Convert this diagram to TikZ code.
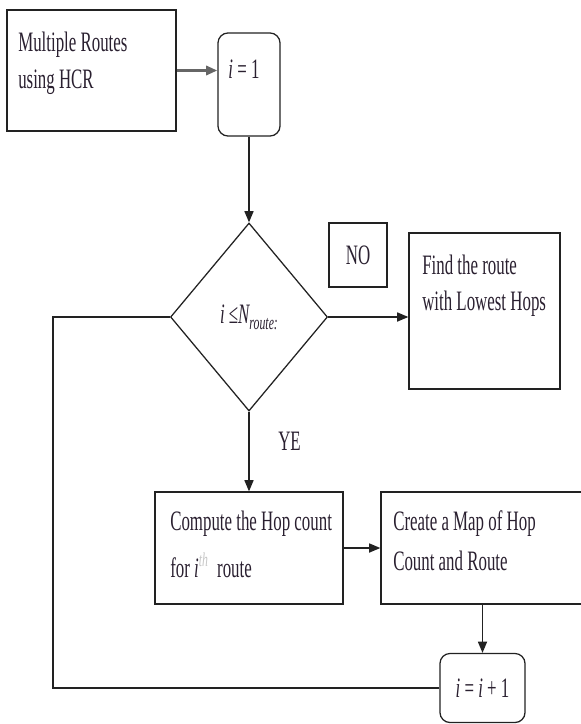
\documentclass[tikz,border=0pt]{standalone}
\usepackage{fontspec}
\setmainfont[FakeStretch=0.6]{Liberation Serif}
\usetikzlibrary{arrows.meta, shapes.geometric}

\definecolor{inkline}{HTML}{222222}
\definecolor{inktext}{HTML}{2A2030}

\tikzset{
  procbox/.style={draw=inkline, line width=0.9pt, inner sep=0pt},
  roundbox/.style={procbox, rounded corners=0.25cm},
  decision/.style={draw=inkline, line width=0.9pt, diamond, inner sep=0pt},
  boxtext/.style={text=inktext, font=\fontsize{20}{25}\selectfont, align=left, inner sep=0pt},
  arr/.style={draw=inkline, line width=0.9pt, -{Triangle[length=8pt,width=6.5pt]}},
  loopline/.style={draw=inkline, line width=0.9pt}
}

\begin{document}
\begin{tikzpicture}[x=0.025cm, y=-0.025cm]
\useasboundingbox (0,0) rectangle (580,724);
\node[procbox, minimum width=4.225cm, minimum height=3.025cm] (routes) at (91.5,70.5) {};
\node[boxtext, anchor=base west] (routestxt) at (18,88) {Multiple Routes\\[1.3pt]using HCR};
\node[roundbox, minimum width=1.55cm, minimum height=2.575cm] (init) at (249,84.5) {};
\node[boxtext, anchor=base] (inittxt) at (244,78) {\itshape i\upshape\ = 1};
\node[decision, boxtext, minimum width=3.925cm, minimum height=4.7cm] (check) at (249,317)
  {\itshape i\upshape\ ≤\itshape N\raisebox{-0.45ex}{\fontsize{14}{14}\selectfont route:}};
\node[procbox, boxtext, minimum width=1.45cm, minimum height=1.6cm] (nobox) at (358,255) {NO};
\node[procbox, minimum width=3.775cm, minimum height=3.9cm] (find) at (484.5,311) {};
\node[boxtext, anchor=base west] (findtxt) at (422,310) {Find the route\\with Lowest Hops};
\node[boxtext, anchor=base west] (yes) at (278,450) {YE};
\node[procbox, minimum width=4.7cm, minimum height=2.8cm] (compute) at (249,548) {};
\node[boxtext, anchor=base west] (computetxt) at (170,577)
  {Compute the Hop count\\[8.4pt]for \itshape i\textsuperscript{\color{gray!45}th}\upshape\ \ route};
\node[procbox, minimum width=5.075cm, minimum height=2.8cm] (create) at (482.5,548) {};
\node[boxtext, anchor=base west] (createtxt) at (393,570) {Create a Map of Hop\\[3.4pt]Count and Route};
\node[roundbox, boxtext, minimum width=2.125cm, minimum height=1.725cm] (incr) at (482.5,688)
  {\itshape i\upshape\ = \itshape i\upshape\ + 1};
\coordinate (loopcorner) at (53,688);
\draw[arr, draw=gray!80!black, line width=2pt] (routes.east) -- (routes.east -| init.west);
\draw[arr] (init.south) -- (check.north);
\draw[arr] (check.east) -- (check.east -| find.west);
\draw[arr] (check.south) -- (compute.north);
\draw[arr] (compute.east) -- (create.west);
\draw[arr] (create.south) -- (incr.north);
\draw[loopline] (incr.west) -- (loopcorner) |- (check.west);
\end{tikzpicture}
\end{document}
